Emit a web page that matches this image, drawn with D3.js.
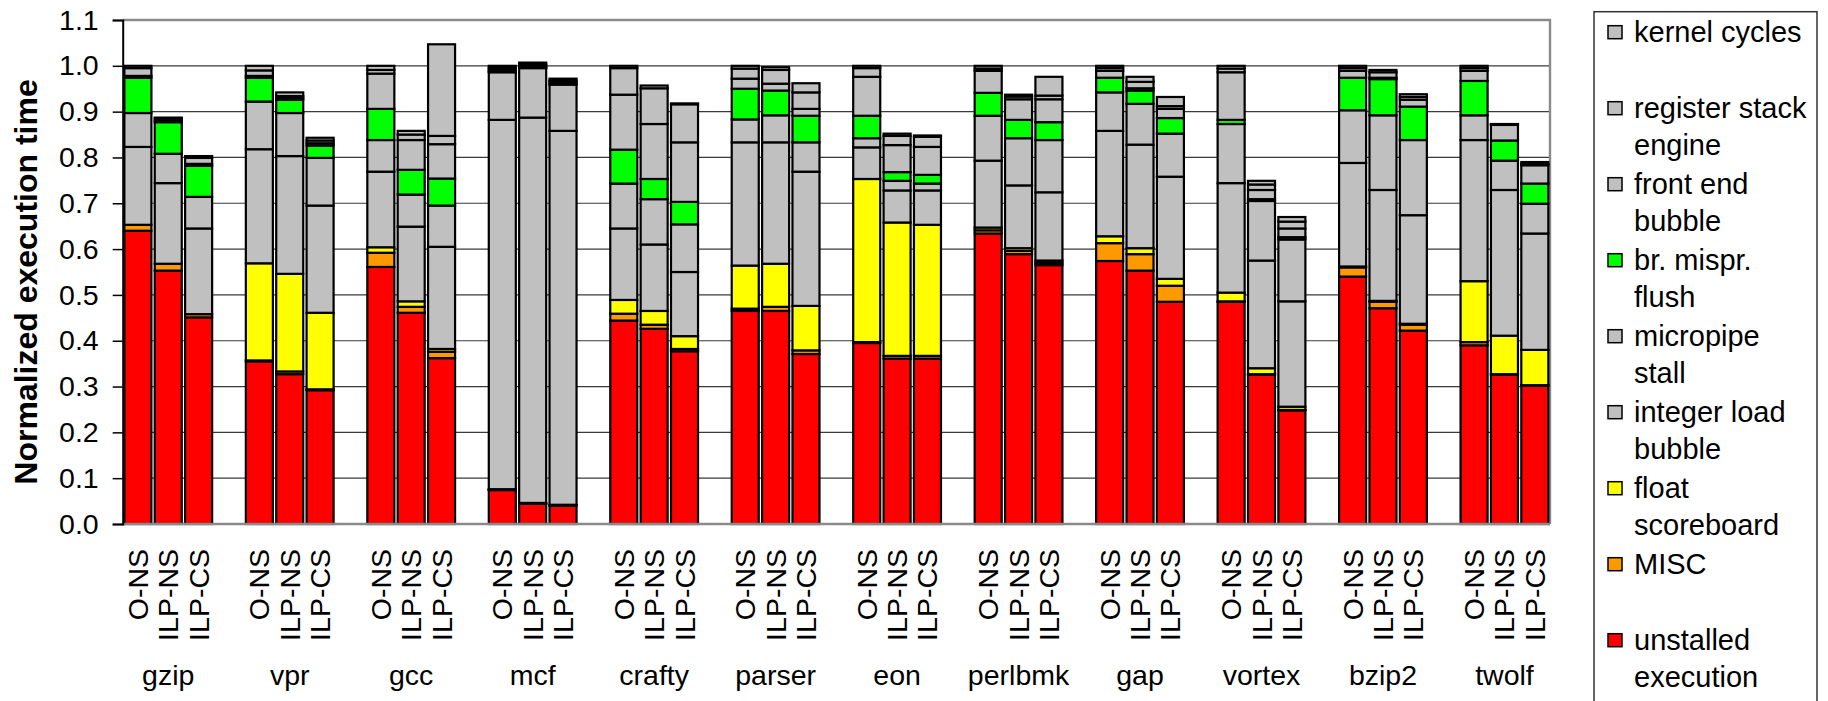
<!DOCTYPE html>
<html><head><meta charset="utf-8">
<script src="https://cdn.jsdelivr.net/npm/d3@7"></script>
<style>
body{margin:0;background:#fff}
svg{display:block}
text{font-family:"Liberation Sans",Arial,sans-serif;fill:#000}
</style>
</head><body>
<svg id="chart" width="1828" height="701"></svg>
<script>
// ---------- data ----------
const benchmarks = ["gzip","vpr","gcc","mcf","crafty","parser","eon","perlbmk","gap","vortex","bzip2","twolf"];
const configs = ["O-NS","ILP-NS","ILP-CS"];
const seriesKeys = ["unstalled","misc","float","intLoad","micropipe","brMispr","frontEnd","regStack","kernel"];
const seriesColors = ["#FF0000","#FF9900","#FFFF00","#C0C0C0","#C0C0C0","#00FF00","#C0C0C0","#C0C0C0","#C0C0C0"];
const yTicks = [0,0.1,0.2,0.3,0.4,0.5,0.6,0.7,0.8,0.9,1.0,1.1];

// values per series, order: benchmark (gzip..twolf) x config (O-NS, ILP-NS, ILP-CS)
const unstalled = [0.640,0.553,0.451, 0.355,0.327,0.292, 0.561,0.461,0.362, 0.074,0.044,0.040, 0.444,0.426,0.377, 0.465,0.465,0.371, 0.395,0.361,0.361, 0.634,0.589,0.565, 0.574,0.553,0.485, 0.485,0.326,0.248, 0.540,0.471,0.422, 0.390,0.326,0.302];
const misc      = [0.013,0.015,0.007, 0.002,0.006,0.002, 0.031,0.013,0.014, 0.001,0.001,0.001, 0.015,0.009,0.005, 0.005,0.009,0.008, 0.002,0.006,0.006, 0.007,0.007,0.005, 0.039,0.036,0.035, 0.001,0.001,0.001, 0.020,0.014,0.013, 0.007,0.001,0.001];
const floatSb   = [0.000,0.000,0.000, 0.212,0.213,0.167, 0.012,0.012,0.006, 0.001,0.001,0.001, 0.030,0.030,0.028, 0.094,0.094,0.097, 0.356,0.291,0.286, 0.006,0.006,0.005, 0.015,0.013,0.015, 0.019,0.013,0.007, 0.002,0.002,0.002, 0.133,0.084,0.077];
const intLoad   = [0.170,0.176,0.187, 0.249,0.257,0.234, 0.165,0.163,0.223, 0.806,0.841,0.816, 0.156,0.145,0.140, 0.269,0.265,0.293, 0.069,0.070,0.075, 0.146,0.137,0.149, 0.230,0.226,0.223, 0.239,0.235,0.230, 0.226,0.242,0.237, 0.308,0.318,0.254];
const micropipe = [0.074,0.064,0.069, 0.104,0.094,0.104, 0.069,0.070,0.090, 0.104,0.108,0.101, 0.098,0.099,0.104, 0.050,0.059,0.064, 0.020,0.021,0.015, 0.098,0.103,0.114, 0.084,0.089,0.094, 0.129,0.130,0.135, 0.115,0.163,0.164, 0.054,0.064,0.065];
const brMispr   = [0.077,0.069,0.068, 0.052,0.029,0.027, 0.068,0.054,0.059, 0.002,0.002,0.002, 0.074,0.044,0.049, 0.067,0.054,0.058, 0.049,0.019,0.019, 0.050,0.040,0.039, 0.032,0.029,0.034, 0.009,0.004,0.005, 0.071,0.079,0.073, 0.075,0.044,0.044];
const frontEnd  = [0.004,0.003,0.004, 0.004,0.004,0.005, 0.077,0.065,0.075, 0.004,0.004,0.004, 0.120,0.120,0.130, 0.022,0.015,0.015, 0.085,0.059,0.061, 0.048,0.045,0.050, 0.015,0.005,0.020, 0.104,0.020,0.019, 0.015,0.003,0.015, 0.022,0.034,0.040];
const regStack  = [0.017,0.005,0.013, 0.012,0.004,0.006, 0.008,0.012,0.018, 0.004,0.003,0.003, 0.058,0.078,0.083, 0.022,0.030,0.036, 0.019,0.020,0.022, 0.005,0.006,0.008, 0.006,0.014,0.006, 0.008,0.012,0.015, 0.006,0.012,0.006, 0.006,0.001,0.003];
const kernel    = [0.005,0.002,0.004, 0.010,0.008,0.006, 0.009,0.008,0.200, 0.004,0.003,0.004, 0.005,0.006,0.002, 0.006,0.006,0.020, 0.005,0.005,0.003, 0.006,0.004,0.041, 0.005,0.011,0.020, 0.006,0.008,0.010, 0.005,0.005,0.006, 0.005,0.001,0.004];

// legend (top to bottom), lines of text
const legendLabels = [["kernel cycles",""],["register stack","engine"],["front end","bubble"],["br. mispr.","flush"],["micropipe","stall"],["integer load","bubble"],["float","scoreboard"],["MISC",""],["unstalled","execution"]];
const legendColors = ["#C0C0C0","#C0C0C0","#C0C0C0","#00FF00","#C0C0C0","#C0C0C0","#FFFF00","#FF9900","#FF0000"];

// ---------- build ----------
(function draw() {
const seriesArrays = {unstalled, misc, float: floatSb, intLoad, micropipe, brMispr, frontEnd, regStack, kernel};
const rows = [];
benchmarks.forEach((b, i) => configs.forEach((c, j) => {
  const r = {bench: b, config: c};
  seriesKeys.forEach(k => r[k] = seriesArrays[k][i*3+j]);
  rows.push(r);
}));

const svg = d3.select("#chart");
const pL = 122.7, pR = 1550, pT = 20, pB = 524;
const fs = 28.5;

const y = d3.scaleLinear().domain([0, 1.1]).range([pB, pT]);
const slot = (pR - pL) / 47;
const x0 = d3.scaleBand().domain(benchmarks).range([pL, pR + slot]);
const x1 = d3.scaleBand().domain(configs).range([0, 3 * slot]).paddingInner(0.11).paddingOuter(0.055);

// gridlines
svg.append("g").selectAll("line").data(yTicks.filter(t => t > 0 && t < 1.1)).join("line")
  .attr("x1", pL).attr("x2", pR).attr("y1", d => y(d)).attr("y2", d => y(d))
  .attr("stroke", "#3a3a3a").attr("stroke-width", 1.2);

// plot border (top & right)
svg.append("path")
  .attr("d", `M${pL},${y(1.1)}H${pR}V${y(0)}`)
  .attr("fill", "none").attr("stroke", "#8a8a8a").attr("stroke-width", 2.4);

// stacked bars
const stacked = d3.stack().keys(seriesKeys)(rows);
const gBars = svg.append("g");
stacked.forEach((layer, li) => {
  gBars.append("g").selectAll("rect").data(layer).join("rect")
    .attr("x", d => x0(d.data.bench) + x1(d.data.config))
    .attr("width", x1.bandwidth())
    .attr("y", d => y(d[1]))
    .attr("height", d => Math.max(0, y(d[0]) - y(d[1])))
    .attr("fill", seriesColors[li])
    .attr("stroke", "#000").attr("stroke-width", 2.2);
});

// x axis line (bottom)
svg.append("line").attr("x1", pL).attr("x2", pR).attr("y1", y(0)).attr("y2", y(0))
  .attr("stroke", "#8a8a8a").attr("stroke-width", 2.4);

// y axis
const yAxis = d3.axisLeft(y).tickValues(yTicks).tickFormat(d3.format(".1f")).tickSize(10).tickPadding(14);
const gy = svg.append("g").attr("transform", `translate(${pL},0)`).call(yAxis);
gy.select(".domain").attr("stroke", "#000").attr("stroke-width", 2);
gy.selectAll(".tick line").attr("stroke", "#000").attr("stroke-width", 1.5);
gy.selectAll(".tick text").attr("font-size", fs).attr("font-family", "Liberation Sans, Arial, sans-serif").attr("fill", "#000");

// y title
svg.append("text")
  .attr("transform", `translate(37,${(pT + pB) / 2 + 10}) rotate(-90)`)
  .attr("text-anchor", "middle").attr("font-size", 32).attr("font-weight", "bold")
  .text("Normalized execution time");

// rotated config labels
const gx = svg.append("g");
benchmarks.forEach(b => configs.forEach(c => {
  gx.append("text")
    .attr("transform", `translate(${x0(b) + x1(c) + x1.bandwidth() / 2},549) rotate(-90)`)
    .attr("text-anchor", "end").attr("dominant-baseline", "central")
    .attr("font-size", fs).text(c);
}));

// benchmark labels
svg.append("g").selectAll("text").data(benchmarks).join("text")
  .attr("x", d => x0(d) + 1.5 * slot).attr("y", 685)
  .attr("text-anchor", "middle").attr("font-size", fs).text(d => d);

// legend
const lg = svg.append("g");
lg.append("rect").attr("x", 1594).attr("y", 11.7).attr("width", 223).attr("height", 720)
  .attr("fill", "#fff").attr("stroke", "#333").attr("stroke-width", 1.5);
const pitch = 76, lineH = 37, firstY = 31.7;
legendLabels.forEach((lines, i) => {
  const cy = firstY + i * pitch;
  lg.append("rect").attr("x", 1608).attr("y", cy - 6).attr("width", 14).attr("height", 13)
    .attr("fill", legendColors[i]).attr("stroke", "#000").attr("stroke-width", 1.5);
  lines.forEach((t, k) => {
    if (!t) return;
    lg.append("text").attr("x", 1634).attr("y", cy + k * lineH)
      .attr("dominant-baseline", "central").attr("font-size", 29).text(t);
  });
});
})();
</script>
</body></html>
